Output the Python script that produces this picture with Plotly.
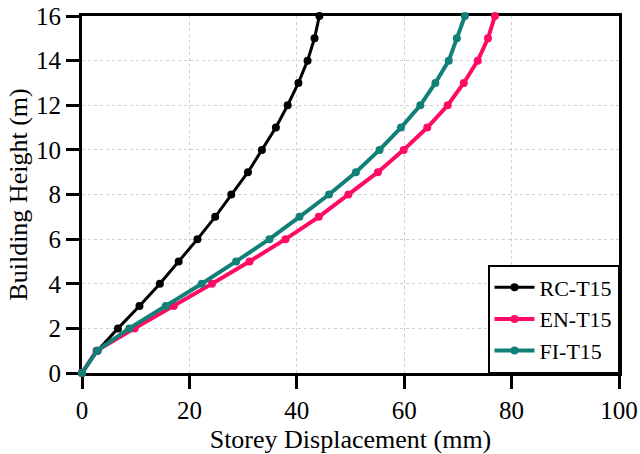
import plotly.graph_objects as go

heights = list(range(0, 17))
rc_t15 = [0, 2.9, 6.7, 10.7, 14.5, 18.0, 21.5, 24.8, 27.8, 30.9, 33.5, 36.1, 38.3, 40.3, 42.0, 43.3, 44.2]
en_t15 = [0, 2.7, 9.8, 17.1, 24.2, 31.2, 37.9, 44.1, 49.6, 55.1, 59.9, 64.3, 68.1, 71.1, 73.7, 75.6, 76.9]
fi_t15 = [0, 2.8, 8.8, 15.6, 22.3, 28.7, 34.9, 40.5, 46.0, 51.0, 55.4, 59.4, 63.0, 65.8, 68.3, 69.8, 71.3]

series = [
    ("RC-T15", rc_t15, "#000000", 3),
    ("EN-T15", en_t15, "#ff0a64", 4),
    ("FI-T15", fi_t15, "#118079", 4),
]

fig = go.Figure()
for name, xs, color, lw in series:
    fig.add_trace(go.Scatter(
        x=xs, y=heights, name=name, mode="lines+markers",
        line=dict(color=color, width=lw),
        marker=dict(color=color, size=8),
        cliponaxis=False,
    ))

font = "'Liberation Serif', 'Times New Roman', Times, serif"
axis_common = dict(
    showline=True, linecolor="black", linewidth=3, mirror=True,
    ticks="outside", ticklen=13, tickwidth=3, tickcolor="black",
    showgrid=True, gridcolor="#d0d0d0", griddash="dot", gridwidth=1,
    zeroline=False, layer="below traces", automargin=False,
    tickfont=dict(family=font, size=25, color="black"),
)

fig.update_xaxes(range=[0, 100], dtick=20,
                 title=dict(text="Storey Displacement (mm)", font=dict(family=font, size=26, color="black"), standoff=8),
                 **axis_common)
fig.update_yaxes(range=[0, 16], dtick=2,
                 title=dict(text="Building Height (m)", font=dict(family=font, size=26, color="black"), standoff=1),
                 **axis_common)

fig.update_layout(
    width=640, height=454,
    margin=dict(l=82, r=21, t=16, b=81),
    plot_bgcolor="white", paper_bgcolor="white",
    font=dict(family=font),
    legend=dict(x=1, y=0, xanchor="right", yanchor="bottom",
                bordercolor="black", borderwidth=1.5, bgcolor="white",
                font=dict(family=font, size=22, color="black"),
                tracegroupgap=0, itemwidth=40),
)

fig.write_html("out.html")
